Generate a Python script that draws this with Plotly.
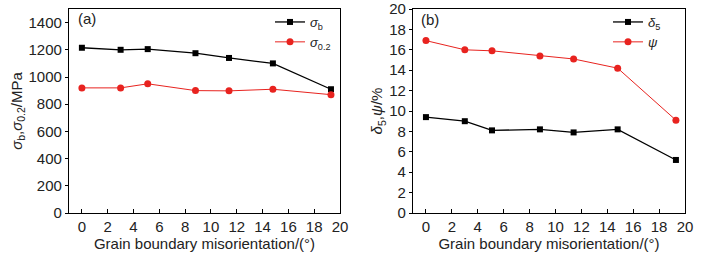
import plotly.graph_objects as go

angles = [0, 3.0, 5.1, 8.8, 11.4, 14.8, 19.3]
sigma_b = [1215, 1200, 1205, 1175, 1140, 1100, 910]
sigma_02 = [920, 920, 950, 900, 898, 910, 870]
delta5 = [9.4, 9.0, 8.1, 8.2, 7.9, 8.2, 5.2]
psi = [16.9, 16.0, 15.9, 15.4, 15.1, 14.2, 9.1]

left_ticks = [0, 200, 400, 600, 800, 1000, 1200, 1400]
right_ticks = [0, 2, 4, 6, 8, 10, 12, 14, 16, 18, 20]
x_ticks = [0, 2, 4, 6, 8, 10, 12, 14, 16, 18, 20]

BLACK = "#000000"
RED = "#e8231f"
TXT = "#222222"
FONT = "Liberation Sans, Arial, sans-serif"

fig = go.Figure()
fig.add_trace(go.Scatter(x=angles, y=sigma_b, mode="lines+markers",
                         name="<i>σ</i><sub>b</sub>",
                         line=dict(color=BLACK, width=1.3),
                         marker=dict(symbol="square", size=6, color=BLACK),
                         xaxis="x", yaxis="y", legend="legend"))
fig.add_trace(go.Scatter(x=angles, y=sigma_02, mode="lines+markers",
                         name="<i>σ</i><sub>0.2</sub>",
                         line=dict(color=RED, width=1),
                         marker=dict(symbol="circle", size=7, color=RED),
                         xaxis="x", yaxis="y", legend="legend"))
fig.add_trace(go.Scatter(x=angles, y=delta5, mode="lines+markers",
                         name="<i>δ</i><sub>5</sub>",
                         line=dict(color=BLACK, width=1.3),
                         marker=dict(symbol="square", size=6, color=BLACK),
                         xaxis="x2", yaxis="y2", legend="legend2"))
fig.add_trace(go.Scatter(x=angles, y=psi, mode="lines+markers",
                         name="<i>ψ</i>",
                         line=dict(color=RED, width=1),
                         marker=dict(symbol="circle", size=7, color=RED),
                         xaxis="x2", yaxis="y2", legend="legend2"))

W, H = 713, 259
L, R, T, B = 69, 685, 8, 213
PW = R - L
PH = B - T

def px_y(y):
    return (B - y) / PH

def xaxis(dom, anchor):
    return dict(domain=dom, anchor=anchor, range=[-1, 20], tickvals=x_ticks,
                ticks="inside", ticklen=4, tickwidth=1, tickcolor=BLACK,
                showline=True, linecolor=BLACK, linewidth=1.2, mirror=True,
                showgrid=False, zeroline=False, automargin=False,
                ticklabeloverflow="allow",
                tickfont=dict(size=15, color=TXT),
                title=dict(text="Grain boundary misorientation/(°)",
                           font=dict(size=15, color=TXT), standoff=4))

def yaxis(rng, ticks, anchor, title):
    return dict(domain=[0, 1], anchor=anchor, range=rng, tickvals=ticks,
                ticks="outside", ticklen=3, tickwidth=1, tickcolor=BLACK,
                showline=True, linecolor=BLACK, linewidth=1.2, mirror=True,
                showgrid=False, zeroline=False, automargin=False,
                ticklabeloverflow="allow",
                tickfont=dict(size=15, color=TXT),
                title=dict(text=title, font=dict(size=15, color=TXT), standoff=2))

fig.update_layout(
    width=W, height=H,
    margin=dict(l=L, r=W - R, t=T, b=H - B, pad=0),
    paper_bgcolor="white", plot_bgcolor="white",
    font=dict(family=FONT, color=TXT),
    xaxis=xaxis([0, (340 - L) / PW], "y"),
    yaxis=yaxis([0, 1500], left_ticks, "x", "<i>σ</i><sub>b</sub>,<i>σ</i><sub>0.2</sub>/MPa"),
    xaxis2=xaxis([(413 - L) / PW, 1], "y2"),
    yaxis2=yaxis([0, 20], right_ticks, "x2", "<i>δ</i><sub>5</sub>,<i>ψ</i>/%"),
    legend=dict(x=(270 - L) / PW, y=px_y(7), xanchor="left", yanchor="top",
                bgcolor="rgba(0,0,0,0)", font=dict(size=13, color=TXT),
                tracegroupgap=0, itemwidth=30),
    legend2=dict(x=(608 - L) / PW, y=px_y(7), xanchor="left", yanchor="top",
                 bgcolor="rgba(0,0,0,0)", font=dict(size=13, color=TXT),
                 tracegroupgap=0, itemwidth=30),
    showlegend=True,
    annotations=[
        dict(text="(a)", x=(76 - L) / PW, y=px_y(18), xref="paper", yref="paper",
             xanchor="left", yanchor="middle", showarrow=False, font=dict(size=15, color=TXT)),
        dict(text="(b)", x=(419 - L) / PW, y=px_y(19), xref="paper", yref="paper",
             xanchor="left", yanchor="middle", showarrow=False, font=dict(size=15, color=TXT)),
    ],
)

fig.write_html("out.html", config={"displayModeBar": False},
               post_script="document.body.style.margin='0';")
